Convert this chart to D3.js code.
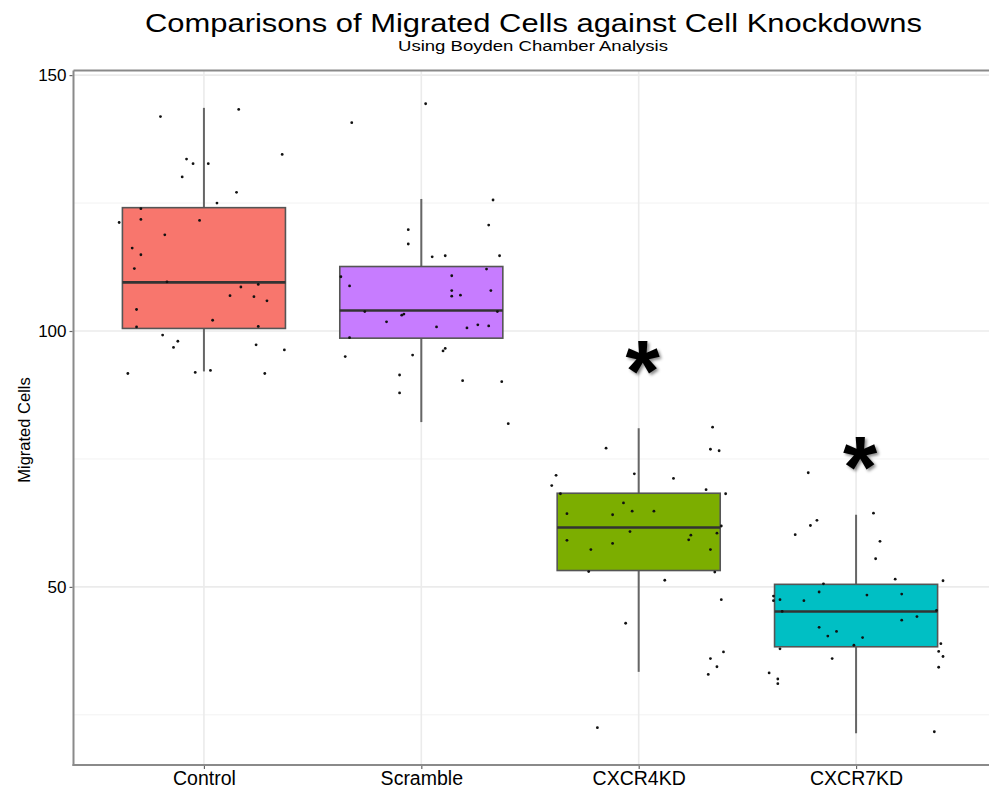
<!DOCTYPE html>
<html>
<head>
<meta charset="utf-8">
<script src="https://cdn.jsdelivr.net/npm/d3@7.9.0/dist/d3.min.js"></script>
<style>
  body { margin: 0; background: #fff; }
  svg { display: block; font-family: "Liberation Sans", Arial, sans-serif; }
</style>
</head>
<body>
<svg id="chart" width="989" height="788"></svg>
<script>
// categories and box stats
const groups = ["Control", "Scramble", "CXCR4KD", "CXCR7KD"];
const colors = ["#F8766D", "#C77CFF", "#7CAE00", "#00BFC4"];
const lowerWhisker = [92.1, 82.2, 33.4, 21.4];
const q1 = [100.5, 98.6, 53.2, 38.3];
const medians = [109.5, 104.0, 61.6, 45.2];
const q3 = [124.1, 112.6, 68.3, 50.5];
const upperWhisker = [143.6, 125.8, 81.0, 64.1];

// jittered points: [x offset in category steps, value]
const controlPts = [
  [-0.20, 141.9], [0.16, 143.3], [0.36, 134.5], [-0.08, 133.6], [-0.05, 132.7],
  [0.02, 132.7], [-0.10, 130.1], [0.15, 127.1], [0.06, 125.0], [-0.29, 123.9],
  [-0.39, 121.2], [-0.29, 121.8], [-0.02, 121.6], [-0.18, 118.8], [-0.33, 116.2],
  [-0.29, 114.9], [-0.32, 112.2], [-0.17, 109.6], [0.17, 108.6], [0.25, 109.1],
  [0.12, 106.9], [0.23, 106.7], [0.29, 105.9], [-0.31, 104.2], [0.04, 102.1],
  [-0.31, 100.8], [0.25, 100.9], [-0.19, 99.2], [-0.12, 98.0], [-0.14, 96.8],
  [0.24, 97.3], [0.37, 96.3], [-0.35, 91.7], [-0.04, 91.9], [0.03, 92.3], [0.28, 91.7]
];
const scramblePts = [
  [0.02, 144.4], [-0.32, 140.7], [0.33, 125.6], [0.31, 120.7], [-0.06, 119.8],
  [-0.06, 117.0], [0.05, 114.5], [0.11, 114.7], [0.36, 114.7], [0.30, 112.1],
  [0.14, 110.8], [-0.37, 110.6], [-0.33, 108.8], [0.14, 107.9], [0.32, 107.9],
  [0.14, 106.8], [0.18, 107.0], [-0.26, 103.8], [0.35, 103.8], [-0.09, 103.1],
  [-0.08, 103.3], [-0.16, 101.8], [0.07, 100.8], [0.21, 100.6], [0.26, 101.2],
  [0.31, 101.0], [-0.33, 98.7], [-0.35, 95.0], [-0.04, 95.3], [0.11, 96.6],
  [0.10, 96.1], [-0.10, 91.4], [-0.10, 87.9], [0.19, 90.3], [0.37, 90.1], [0.40, 81.9]
];
const cxcr4Pts = [
  [0.34, 81.2], [0.33, 76.9], [0.37, 76.6], [-0.15, 77.1], [-0.38, 71.8],
  [-0.40, 69.8], [-0.02, 72.1], [0.16, 71.2], [0.31, 69.0], [0.40, 68.2],
  [-0.36, 68.2], [-0.07, 66.4], [-0.33, 64.3], [-0.12, 64.1], [-0.03, 64.8],
  [0.07, 64.8], [0.38, 61.9], [-0.04, 60.8], [0.36, 60.5], [0.24, 60.1],
  [0.23, 59.2], [-0.33, 59.1], [-0.12, 58.5], [-0.22, 57.3], [0.33, 57.3],
  [-0.23, 53.0], [0.35, 52.9], [0.12, 51.3], [0.38, 47.5], [-0.06, 42.9],
  [0.39, 37.3], [0.33, 36.0], [0.36, 34.4], [0.32, 32.9], [-0.19, 22.5]
];
const cxcr7Pts = [
  [-0.22, 72.3], [0.08, 64.4], [-0.18, 63.0], [-0.21, 62.0], [-0.28, 60.2],
  [0.11, 58.9], [0.09, 55.5], [0.18, 51.5], [0.40, 51.2], [-0.15, 50.6],
  [-0.17, 49.0], [0.05, 48.4], [0.21, 48.6], [-0.38, 48.2], [-0.35, 47.5],
  [-0.38, 47.3], [-0.24, 47.3], [-0.34, 45.2], [0.37, 45.4], [0.28, 44.2],
  [0.21, 43.5], [-0.17, 42.1], [-0.09, 41.3], [-0.13, 40.4], [0.03, 40.1],
  [-0.01, 38.6], [0.39, 38.9], [-0.35, 37.9], [0.38, 37.4], [0.40, 36.4],
  [-0.11, 36.0], [0.38, 34.3], [-0.40, 33.2], [-0.36, 32.0], [-0.36, 31.1], [0.36, 21.7]
];
const points = [controlPts, scramblePts, cxcr4Pts, cxcr7Pts];

// significance markers
const sigGroups = ["CXCR4KD", "CXCR7KD"];
const sigValues = [94.4, 75.6];

const yTicks = [50, 100, 150];
const yMinor = [25, 75, 125];

const svg = d3.select("#chart");
const panel = { left: 73.5, right: 986.5, top: 70.5, bottom: 765 };

const x = d3.scalePoint().domain(groups).range([panel.left, panel.right]).padding(0.6);
const y = d3.scaleLinear().domain([15.2, 150.9]).range([panel.bottom, panel.top]);
const step = x.step();
const boxW = step * 0.75;

// grid
const grid = svg.append("g");
grid.selectAll(".minor").data(yMinor).join("line")
  .attr("x1", panel.left).attr("x2", 989)
  .attr("y1", d => y(d)).attr("y2", d => y(d))
  .attr("stroke", "#f2f2f2").attr("stroke-width", 1);
grid.selectAll(".major").data(yTicks).join("line")
  .attr("x1", panel.left).attr("x2", 989)
  .attr("y1", d => y(d)).attr("y2", d => y(d))
  .attr("stroke", "#ebebeb").attr("stroke-width", 1.6);
grid.selectAll(".vmajor").data(groups).join("line")
  .attr("x1", d => x(d)).attr("x2", d => x(d))
  .attr("y1", panel.top).attr("y2", panel.bottom)
  .attr("stroke", "#ebebeb").attr("stroke-width", 1.6);

// boxes
const boxes = svg.append("g").selectAll("g").data(groups).join("g");
boxes.append("line")
  .attr("x1", d => x(d)).attr("x2", d => x(d))
  .attr("y1", (d, i) => y(upperWhisker[i])).attr("y2", (d, i) => y(q3[i]))
  .attr("stroke", "#666").attr("stroke-width", 2);
boxes.append("line")
  .attr("x1", d => x(d)).attr("x2", d => x(d))
  .attr("y1", (d, i) => y(q1[i])).attr("y2", (d, i) => y(lowerWhisker[i]))
  .attr("stroke", "#666").attr("stroke-width", 2);
boxes.append("rect")
  .attr("x", d => x(d) - boxW / 2).attr("width", boxW)
  .attr("y", (d, i) => y(q3[i])).attr("height", (d, i) => y(q1[i]) - y(q3[i]))
  .attr("fill", (d, i) => colors[i])
  .attr("stroke", "#555").attr("stroke-width", 1.6);
boxes.append("line")
  .attr("x1", d => x(d) - boxW / 2).attr("x2", d => x(d) + boxW / 2)
  .attr("y1", (d, i) => y(medians[i])).attr("y2", (d, i) => y(medians[i]))
  .attr("stroke", "#333").attr("stroke-width", 2.6);

// jittered points
groups.forEach((g, i) => {
  svg.append("g").selectAll("circle").data(points[i]).join("circle")
    .attr("cx", d => x(g) + d[0] * step)
    .attr("cy", d => y(d[1]))
    .attr("r", 1.4)
    .attr("fill", "#111");
});

// axis lines + ticks
const axisColor = "#8a8a8a";
svg.append("line").attr("x1", panel.left).attr("x2", 989).attr("y1", panel.top).attr("y2", panel.top)
  .attr("stroke", axisColor).attr("stroke-width", 2);
svg.append("line").attr("x1", panel.left).attr("x2", panel.left).attr("y1", panel.top).attr("y2", panel.bottom + 1)
  .attr("stroke", axisColor).attr("stroke-width", 2);
svg.append("line").attr("x1", panel.left - 1).attr("x2", 989).attr("y1", panel.bottom).attr("y2", panel.bottom)
  .attr("stroke", axisColor).attr("stroke-width", 2);

const yAxis = svg.append("g").attr("transform", `translate(${panel.left - 1},0)`)
  .call(d3.axisLeft(y).tickValues(yTicks).tickSize(3).tickPadding(3));
yAxis.select(".domain").remove();
yAxis.selectAll(".tick line").attr("stroke", "#666").attr("stroke-width", 1.2);
yAxis.selectAll(".tick text").attr("fill", "#000")
  .attr("font-size", 17).attr("font-family", "Liberation Sans, Arial, sans-serif");

const xAxis = svg.append("g").attr("transform", `translate(0,${panel.bottom + 1})`)
  .call(d3.axisBottom(x).tickSize(3).tickPadding(2));
xAxis.select(".domain").remove();
xAxis.selectAll(".tick line").attr("stroke", "#666").attr("stroke-width", 1.2);
xAxis.selectAll(".tick text").attr("fill", "#000")
  .attr("font-size", 19.5).attr("font-family", "Liberation Sans, Arial, sans-serif");

// significance asterisks with soft shadow
const defs = svg.append("defs");
const f = defs.append("filter").attr("id", "shadow")
  .attr("x", "-30%").attr("y", "-30%").attr("width", "160%").attr("height", "160%");
f.append("feDropShadow").attr("dx", 2).attr("dy", 2).attr("stdDeviation", 1.5)
  .attr("flood-color", "#000").attr("flood-opacity", 0.45);

sigGroups.forEach((g, i) => {
  svg.append("text")
    .text("*")
    .attr("x", x(g) + 4).attr("y", y(sigValues[i]))
    .attr("text-anchor", "middle")
    .attr("dy", "0.47em")
    .attr("font-size", 88).attr("font-weight", "bold")
    .attr("fill", "#000")
    .attr("filter", "url(#shadow)");
});

// titles
svg.append("text").text("Comparisons of Migrated Cells against Cell Knockdowns")
  .attr("x", 533.5).attr("y", 32.3).attr("text-anchor", "middle")
  .attr("font-size", 26.5).attr("fill", "#000")
  .attr("textLength", 777).attr("lengthAdjust", "spacingAndGlyphs");
svg.append("text").text("Using Boyden Chamber Analysis")
  .attr("x", 533).attr("y", 50.8).attr("text-anchor", "middle")
  .attr("font-size", 14).attr("fill", "#000")
  .attr("textLength", 270).attr("lengthAdjust", "spacingAndGlyphs");
svg.append("text").text("Migrated Cells")
  .attr("transform", "translate(30,430) rotate(-90)")
  .attr("text-anchor", "middle")
  .attr("font-size", 16.5).attr("fill", "#000");
</script>
</body>
</html>
